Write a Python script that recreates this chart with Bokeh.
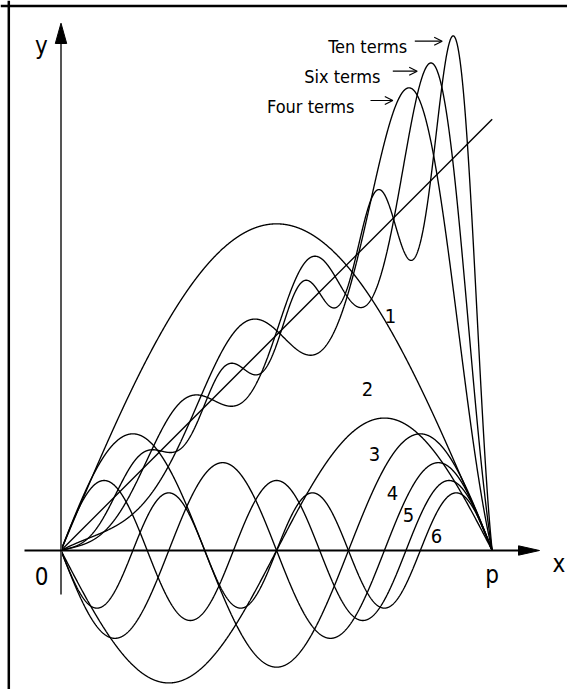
import numpy as np
from bokeh.plotting import figure
from bokeh.models import Range1d, Arrow, OpenHead, Span
from bokeh.core.properties import value
from bokeh.embed import file_html
from bokeh.resources import INLINE

# ---------------- data ----------------
term_numbers = [1, 2, 3, 4, 5, 6]
term_amplitudes = [2.38, 0.965, 0.85, 0.64, 0.51, 0.42]   # height of each drawn term
term_signs = [1, -1, 1, -1, 1, -1]                        # sign of b_n sin(nx)
sum_term_counts = [4, 6, 10]                              # partial sums shown
sum_labels = ["Four terms", "Six terms", "Ten terms"]
sum_wiggle_gains = [1.42, 1.45, 1.5]                      # drawn oscillation vs. exact sum
sum_phase_lags = [0.54, 0.30, 0.30]                       # drawn wiggles lag the exact ones
axis_tick_labels = ["0", "p"]
axis_names = ["x", "y"]

# ---------------- layout (image pixels) ----------------
W, H = 567, 689
OX, OY, PX = 60.5, 550.0, 137.25          # origin in the image and pixels per unit


def ux(px):
    return (px - OX) / PX


def uy(py):
    return (OY - py) / PX


FONT = value("'DejaVu Sans Condensed', 'Liberation Sans Narrow', 'Roboto', sans-serif")

p = figure(width=W, height=H, output_backend="svg", toolbar_location=None,
           x_range=Range1d(ux(0), ux(W)), y_range=Range1d(uy(H), uy(0)),
           min_border=0, min_border_left=0, min_border_right=0,
           min_border_top=0, min_border_bottom=0)
p.axis.visible = False
p.grid.visible = False
p.outline_line_color = None
p.background_fill_color = None
p.border_fill_color = None

# frame (left and top edges visible in the crop)
p.add_layout(Span(location=ux(8.3), dimension="height", line_color="black", line_width=2.5))
p.add_layout(Span(location=uy(5.5), dimension="width", line_color="black", line_width=2.5))

xs = np.linspace(0.0, np.pi, 1600)
LW = 1.35

# individual terms
for n, a, s in zip(term_numbers, term_amplitudes, term_signs):
    p.line(xs, s * a * np.sin(n * xs), line_color="black", line_width=LW)

# partial sums of the sine series of y = x
for N, g, lag in zip(sum_term_counts, sum_wiggle_gains, sum_phase_lags):
    u = xs - lag * xs * (np.pi - xs) ** 2 / np.pi ** 2
    S = np.zeros_like(xs)
    for n in range(1, N + 1):
        S += 2.0 * (-1) ** (n + 1) / n * np.sin(n * u)
    D = S - u
    w = ((D + np.pi) / np.pi) * np.sqrt(np.sin(u / 2.0))
    p.line(xs, xs + D * (1.0 + (g - 1.0) * w), line_color="black", line_width=LW)

# the function y = x
p.line([0, np.pi], [0, np.pi], line_color="black", line_width=LW)

# axes with arrow heads
p.line([0, 0], [uy(594), uy(43)], line_color="#555555", line_width=2)
p.patch([-5.7 / PX, 5.7 / PX, 0], [uy(43), uy(43), uy(22.7)], fill_color="black", line_color="black")
p.line([ux(24), ux(518)], [0, 0], line_color="black", line_width=1.8)
p.patch([ux(518), ux(518), ux(539)], [4.7 / PX, -4.7 / PX, 0], fill_color="black", line_color="black")

# axis texts
p.text(x=[ux(41), np.pi], y=[uy(575), uy(574.5)], text=axis_tick_labels,
       text_font=FONT, text_font_size="24px", text_align="center",
       text_baseline="alphabetic", text_color="black")
p.text(x=[ux(558.5), ux(41)], y=[uy(563), uy(45.5)], text=axis_names,
       text_font=FONT, text_font_size="24px", text_align="center",
       text_baseline="alphabetic", text_color="black")

# term numbers
num_x = [390, 367, 374, 392, 408, 436]
num_y = [315, 388, 453, 492, 514, 535]
p.text(x=[ux(v) for v in num_x], y=[uy(v) for v in num_y], text=[str(n) for n in term_numbers],
       text_font=FONT, text_font_size="20px", text_align="center",
       text_baseline="middle", text_color="black")

# partial-sum labels with arrows
lab_right = [354, 380, 406.7]
lab_base = [106, 76, 46]
p.text(x=[ux(v) for v in lab_right], y=[uy(v) for v in lab_base], text=sum_labels,
       text_font=FONT, text_font_size="18px", text_align="right",
       text_baseline="alphabetic", text_color="black")
arr_x0 = [370, 392.3, 414.3]
arr_x1 = [392.3, 416.7, 441.7]
arr_y = [100, 70.7, 40.7]
for a0, a1, ay in zip(arr_x0, arr_x1, arr_y):
    p.add_layout(Arrow(x_start=ux(a0), y_start=uy(ay), x_end=ux(a1), y_end=uy(ay),
                       line_color="black", line_width=1.2,
                       end=OpenHead(size=8, line_color="black", line_width=1.2)))

open("out.html", "w").write(file_html(p, INLINE))
